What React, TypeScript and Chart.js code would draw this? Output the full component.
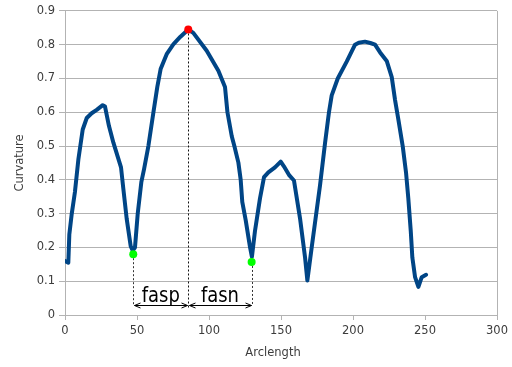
import { useEffect, useRef } from 'react';
import { Chart, registerables } from 'chart.js';

Chart.register(...registerables);

const arcLength = [
  0, 2.3, 3.0, 4.6, 6.9, 9.3, 12.3, 15.1, 18.5, 22, 26.2, 27.8, 30.5, 33.6, 38.9, 40.5, 42.8, 45.6,
  47.0, 48.6, 50.5, 53, 54.9, 57.9, 61.3, 64.1, 66.4, 70.6, 75.2, 80, 85.6, 89.1, 98.4, 106.5,
  111.1, 112.8, 115.8, 117.6, 120.4, 122, 123.1, 125.5, 128.5, 129.8, 131.9, 135.4, 138.2, 141.2,
  145.8, 149.8, 152, 155.8, 159, 163.2, 166.7, 168.3, 171.3, 177.1, 180.6, 183.3, 185.2, 189.4,
  195.6, 201.4, 204, 208.3, 212, 215.3, 218.8, 223.4, 226.9, 229.2, 231.5, 234.5, 236.8, 238.4,
  240.1, 241.2, 243.1, 245.4, 247.7, 250.7,
];
const curvature = [
  0.16, 0.155, 0.238, 0.297, 0.364, 0.461, 0.549, 0.583, 0.597, 0.607, 0.621, 0.617, 0.56, 0.51,
  0.437, 0.374, 0.286, 0.204, 0.191, 0.2, 0.3, 0.393, 0.432, 0.5, 0.597, 0.675, 0.728, 0.772,
  0.801, 0.823, 0.845, 0.835, 0.782, 0.723, 0.675, 0.6, 0.529, 0.5, 0.451, 0.4, 0.335, 0.28, 0.2,
  0.172, 0.248, 0.345, 0.408, 0.422, 0.437, 0.454, 0.44, 0.413, 0.398, 0.286, 0.17, 0.102, 0.2,
  0.384, 0.51, 0.6, 0.65, 0.7, 0.75, 0.8, 0.806, 0.809, 0.805, 0.8, 0.777, 0.752, 0.704, 0.636,
  0.578, 0.5, 0.422, 0.345, 0.248, 0.17, 0.112, 0.083, 0.112, 0.119,
];
const peakArc = [85.6];
const peakCurv = [0.845];
const valleyArc = [47.4, 129.6];
const valleyCurv = [0.18, 0.157];
const spanLabels = ['fasp', 'fasn'];
const arrowLevel = 0.029;
const peakLineEnd = 0.02;
const xTitle = 'Arclength';
const yTitle = 'Curvature';

const annotPlugin = {
  id: 'annot',
  beforeDatasetsDraw(chart: any) {
    const { ctx, scales } = chart;
    const x = scales.x;
    const y = scales.y;
    const ay = Math.round(y.getPixelForValue(arrowLevel)) + 0.5;
    const sx = (v: number) => Math.round(x.getPixelForValue(v)) + 0.5;
    ctx.save();
    ctx.lineWidth = 1;
    ctx.strokeStyle = '#111';
    ctx.setLineDash([2, 2]);
    const pxp = sx(peakArc[0]);
    ctx.beginPath();
    ctx.moveTo(pxp, y.getPixelForValue(peakCurv[0]));
    ctx.lineTo(pxp, y.getPixelForValue(peakLineEnd));
    ctx.stroke();
    ctx.strokeStyle = '#333';
    valleyArc.forEach((v, i) => {
      const vx = sx(v);
      ctx.beginPath();
      ctx.moveTo(vx, y.getPixelForValue(valleyCurv[i]));
      ctx.lineTo(vx, ay);
      ctx.stroke();
    });
    ctx.setLineDash([]);
    ctx.strokeStyle = '#000';
    const spans = [
      [valleyArc[0], peakArc[0]],
      [peakArc[0], valleyArc[1]],
    ];
    spans.forEach(([a, b], i) => {
      const x1 = sx(a) + 1;
      const x2 = sx(b) - 1;
      ctx.beginPath();
      ctx.moveTo(x1, ay);
      ctx.lineTo(x2, ay);
      ctx.moveTo(x1 + 6, ay - 2.5);
      ctx.lineTo(x1, ay);
      ctx.lineTo(x1 + 6, ay + 2.5);
      ctx.moveTo(x2 - 6, ay - 2.5);
      ctx.lineTo(x2, ay);
      ctx.lineTo(x2 - 6, ay + 2.5);
      ctx.stroke();
      const cx = (x.getPixelForValue(a) + x.getPixelForValue(b)) / 2;
      ctx.save();
      ctx.translate(cx, ay - 4);
      ctx.scale(1, 1.2);
      ctx.fillStyle = '#000';
      ctx.font = '18px "DejaVu Sans"';
      ctx.textAlign = 'center';
      ctx.textBaseline = 'alphabetic';
      ctx.fillText(spanLabels[i], 0, 0);
      ctx.restore();
    });
    // x axis title (slightly left of plot centre, as in the reference)
    const ca = chart.chartArea;
    ctx.fillStyle = '#3c3c3c';
    ctx.font = '11.5px "DejaVu Sans"';
    ctx.textAlign = 'center';
    ctx.textBaseline = 'middle';
    ctx.fillText(xTitle, (ca.left + ca.right) / 2 - 8, ca.bottom + 38);
    ctx.restore();
  },
};

export default function App() {
  const ref = useRef<HTMLCanvasElement>(null);
  useEffect(() => {
    document.body.style.margin = '0';
    const canvas = ref.current!;
    const tickFont = { family: '"DejaVu Sans"', size: 11.5 };
    const chart = new Chart(canvas, {
      type: 'scatter',
      data: {
        datasets: [
          {
            data: peakArc.map((v, i) => ({ x: v, y: peakCurv[i] })),
            pointRadius: 4,
            pointBackgroundColor: '#ff0000',
            pointBorderWidth: 0,
            order: 0,
          },
          {
            data: valleyArc.map((v, i) => ({ x: v, y: valleyCurv[i] })),
            pointRadius: 4,
            pointBackgroundColor: '#00ff00',
            pointBorderWidth: 0,
            order: 0,
          },
          {
            data: arcLength.map((v, i) => ({ x: v, y: curvature[i] })),
            showLine: true,
            borderColor: '#004586',
            borderWidth: 4,
            borderJoinStyle: 'round',
            borderCapStyle: 'round',
            pointRadius: 0,
            tension: 0,
            order: 1,
          },
        ],
      },
      plugins: [annotPlugin],
      options: {
        responsive: false,
        animation: false,
        layout: { padding: { top: 6, right: 14, left: 0, bottom: 0 } },
        plugins: { legend: { display: false }, tooltip: { enabled: false } },
        scales: {
          x: {
            type: 'linear',
            min: 0,
            max: 300,
            afterFit: (s: any) => { s.height = 52; },
            ticks: { stepSize: 50, color: '#3c3c3c', font: tickFont, padding: 4 },
            grid: {
              color: (c: any) => (c.tick && c.tick.value === 300 ? '#b3b3b3' : 'rgba(0,0,0,0)'),
              tickColor: '#b3b3b3',
              tickLength: 5,
            },
            border: { color: '#b3b3b3' },
            title: { display: false, text: xTitle },
          },
          y: {
            min: 0,
            max: 0.9,
            afterFit: (s: any) => { s.width = 65; },
            ticks: {
              stepSize: 0.1,
              color: '#3c3c3c',
              font: tickFont,
              padding: 4,
              callback: (v: any) => (Math.round(v * 10) / 10).toString(),
            },
            grid: { color: '#b3b3b3', tickColor: '#b3b3b3', tickLength: 6 },
            border: { color: '#b3b3b3' },
            title: { display: true, text: yTitle, color: '#3c3c3c', font: tickFont, padding: { top: 13, bottom: 4 } },
          },
        },
      },
    });
    return () => chart.destroy();
  }, []);
  return (
    <div style={{ position: 'fixed', left: 0, top: 0, width: 512, height: 367, background: '#fff' }}>
      <canvas ref={ref} width={512} height={367} />
    </div>
  );
}
